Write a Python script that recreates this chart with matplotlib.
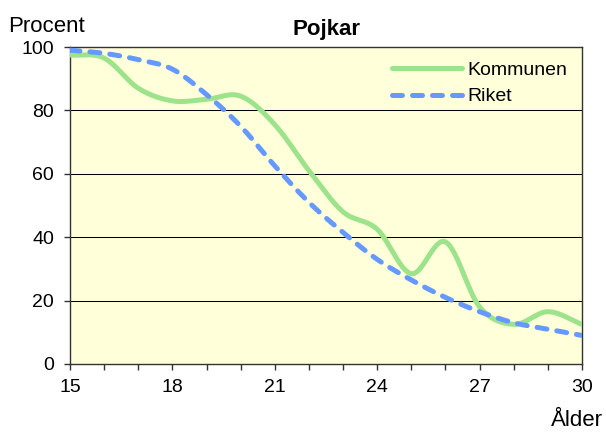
import numpy as np
import matplotlib as mpl
mpl.use('Agg')
import matplotlib.pyplot as plt
from matplotlib.ticker import MultipleLocator

plt.rcParams['font.family'] = ['Liberation Sans', 'DejaVu Sans']

ages = [15, 16, 17, 18, 19, 20, 21, 22, 23, 24, 25, 26, 27, 28, 29, 30]
kommunen = [97.5, 96.5, 87, 83, 83.5, 84.5, 75.5, 61, 48, 42.5, 28.5, 38.5, 18, 12.5, 16.5, 12.5]
riket = [99, 98, 96, 93, 85, 75, 62.5, 51, 41.5, 33, 26.5, 21, 16.5, 13, 11, 9]


def smooth(x, y, n=30):
    # catmull-rom, roughly like excel's smoothed lines
    x = np.asarray(x, float)
    y = np.asarray(y, float)
    px = np.concatenate([[2 * x[0] - x[1]], x, [2 * x[-1] - x[-2]]])
    py = np.concatenate([[2 * y[0] - y[1]], y, [2 * y[-1] - y[-2]]])
    xs, ys = [], []
    t = np.linspace(0, 1, n, endpoint=False)
    for i in range(1, len(px) - 2):
        for p, out in ((px, xs), (py, ys)):
            p0, p1, p2, p3 = p[i - 1], p[i], p[i + 1], p[i + 2]
            out.extend(0.5 * (2 * p1 + (-p0 + p2) * t
                              + (2 * p0 - 5 * p1 + 4 * p2 - p3) * t ** 2
                              + (-p0 + 3 * p1 - 3 * p2 + p3) * t ** 3))
    xs.append(x[-1])
    ys.append(y[-1])
    return np.array(xs), np.array(ys)


fig = plt.figure(figsize=(6.06, 4.33), dpi=100)
ax = fig.add_axes([70 / 606, 1 - 364 / 433, 512 / 606, 317 / 433])
ax.set_facecolor('#FFFFD9')

for v in [20, 40, 60, 80]:
    ax.axhline(v, color='black', lw=0.75, zorder=1)

kx, ky = smooth(ages, kommunen)
rx, ry = smooth(ages, riket)
ax.plot(kx, ky, color='#9DE38C', lw=3.6, solid_capstyle='round', label='Kommunen', zorder=3)
ax.plot(rx, ry, color='#6699FF', lw=3.6, dashes=(2.0, 2.0), dash_capstyle='round',
        label='Riket', zorder=4)

ax.set_xlim(15, 30)
ax.set_ylim(0, 100)
ax.xaxis.set_major_locator(MultipleLocator(3))
ax.xaxis.set_minor_locator(MultipleLocator(1))
ax.yaxis.set_major_locator(MultipleLocator(20))
ax.tick_params(axis='both', which='both', direction='out', labelsize=14,
               color='#333333', width=1)
ax.tick_params(axis='both', which='major', length=4.5)
ax.tick_params(axis='x', which='minor', length=4.5)
ax.tick_params(axis='x', pad=6.5)
ax.tick_params(axis='y', pad=7)
for s in ax.spines.values():
    s.set_color('#333333')
    s.set_linewidth(1)

fig.text(326 / 606, 1 - 35 / 433, 'Pojkar', fontsize=16, fontweight='bold',
         ha='center', va='baseline')
fig.text(8 / 606, 1 - 32 / 433, 'Procent', fontsize=16, ha='left', va='baseline')
fig.text(603 / 606, 1.5 / 433, 'Ålder', fontsize=16, ha='right', va='bottom')

leg = ax.legend(loc='upper left', frameon=False, fontsize=14, handlelength=3.6,
                bbox_to_anchor=((382 - 70) / 512, 0.985), borderpad=0,
                labelspacing=0.45, handletextpad=0.3)

plt.savefig('out.png', dpi=100)
